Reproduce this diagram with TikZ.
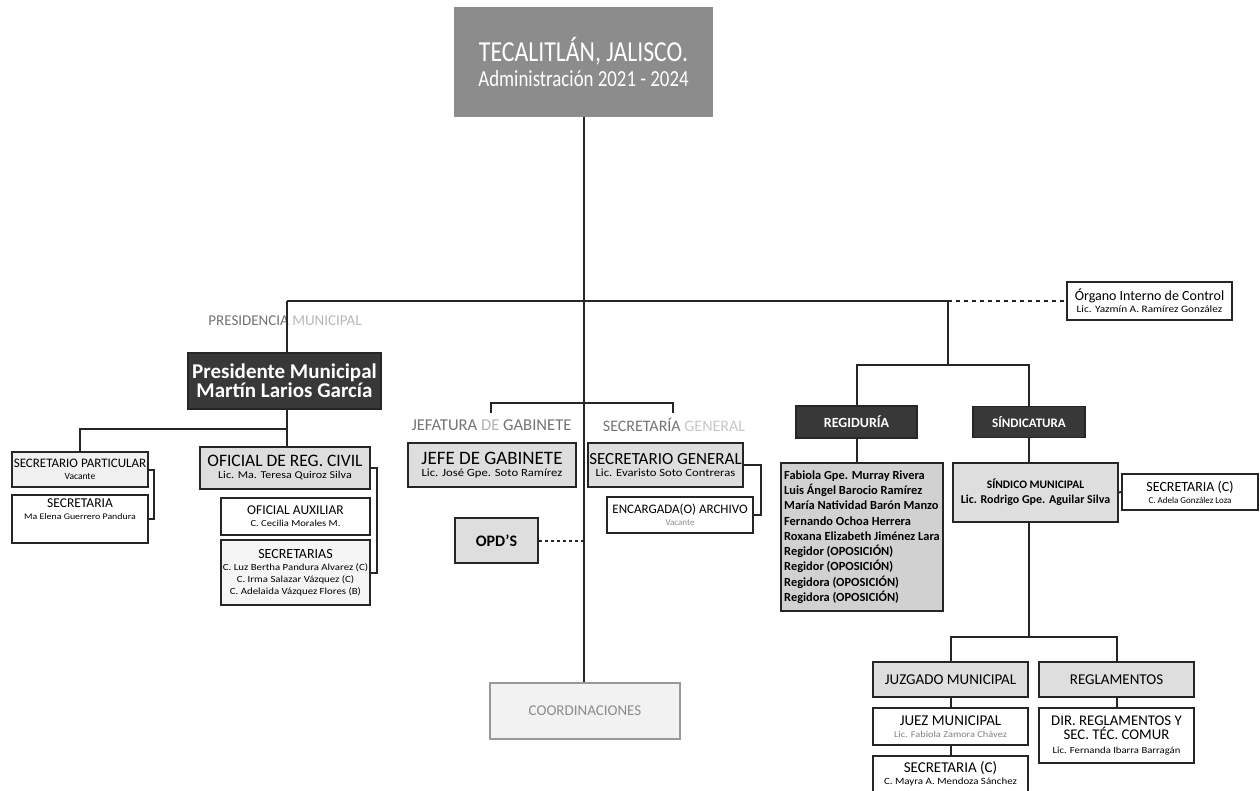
\documentclass[tikz,border=0pt]{standalone}
\usepackage{fontspec}
\setmainfont{Carlito}
\newfontfamily\cond{Carlito}[FakeStretch=0.82]
\newfontfamily\widef{Carlito}[FakeStretch=1.15]
\newcommand\fs[2]{\fontsize{#1}{#2}\selectfont}
\begin{document}
\begin{tikzpicture}[x=1pt,y=-1pt,
  conn/.style={line width=2pt, draw=black!85},
  bx/.style={draw=black!85, line width=1.8pt, inner sep=1pt, align=center},
  dk/.style={bx, fill=black!78, text=white},
  gr/.style={bx, fill=black!13},
  wh/.style={bx, fill=white},
  lbl/.style={inner sep=0pt, align=center}]
\useasboundingbox (0,0) rectangle (1260,791);

% title
\node[bx, draw=black!45, fill=black!45, text=white, minimum width=257pt, minimum height=108pt] (tit) at (583.5,62)
  {\cond\fs{29}{30}TECALITLÁN, JALISCO.\\[5pt]\cond\fs{23}{25}Administración 2021 - 2024};

% presidencia
\node[lbl] (lpres) at (285,321) {\fs{15}{16}\textcolor{black!55}{PRESIDENCIA} \textcolor{black!28}{MUNICIPAL}};
\node[dk, minimum width=193pt, minimum height=56pt] (pres) at (284.5,381)
  {\bfseries\fs{21}{22}Presidente Municipal\\\bfseries\fs{21}{22}Martín Larios García};

\node[gr, fill=black!6, minimum width=136pt, minimum height=35pt] (spart) at (80,469.5)
  {\fs{13}{14}SECRETARIO PARTICULAR\\\fs{9.5}{10}Vacante};
\node[wh, minimum width=136pt, minimum height=48pt] (secr) at (80,519)
  {\fs{13.5}{14}SECRETARIA\\\widef\fs{8.6}{10}Ma Elena Guerrero Pandura\\[8pt]\mbox{}};

\node[gr, minimum width=170pt, minimum height=42pt] (ofc) at (285,468)
  {\fs{17.5}{18}OFICIAL DE REG. CIVIL\\\widef\fs{10.5}{12}Lic. Ma. Teresa Quiroz Silva};
\node[wh, minimum width=149pt, minimum height=37pt] (oaux) at (295.5,516.5)
  {\fs{13.5}{14}OFICIAL AUXILIAR\\\widef\fs{9.2}{11}C. Cecilia Morales M.};
\node[wh, fill=black!4, minimum width=149pt, minimum height=65pt] (secs) at (295.5,572.5)
  {\fs{14}{14}SECRETARIAS\\\widef\fs{9.4}{10}C. Luz Bertha Pandura Alvarez (C)\\\widef\fs{9.4}{10}C. Irma Salazar Vázquez (C)\\\widef\fs{9.4}{10}C. Adelaida Vázquez Flores (B)};

% middle
\node[lbl] (ljef) at (491.5,425) {\fs{16.6}{17}\textcolor{black!55}{JEFATURA} \textcolor{black!30}{DE} \textcolor{black!55}{GABINETE}};
\node[lbl] (lsg) at (674,425) {\fs{16}{17}\textcolor{black!55}{SECRETARÍA} \textcolor{black!22}{GENERAL}};
\node[gr, minimum width=168pt, minimum height=44pt] (jefe) at (492,465)
  {\fs{19}{19}JEFE DE GABINETE\\\widef\fs{11}{12}Lic. José Gpe. Soto Ramírez};
\node[gr, minimum width=155pt, minimum height=44pt] (sg) at (665.5,465)
  {\fs{17}{18}SECRETARIO GENERAL\\\widef\fs{11}{12}Lic. Evaristo Soto Contreras};
\node[wh, minimum width=146pt, minimum height=36pt] (arch) at (680,515)
  {\fs{13}{14}ENCARGADA(O) ARCHIVO\\\fs{9}{10}\textcolor{black!45}{Vacante}};
\node[gr, minimum width=83pt, minimum height=45pt] (opd) at (496.5,540.5) {\bfseries\fs{16}{17}OPD'S};
\node[bx, draw=black!40, fill=black!5, text=black!45, minimum width=190pt, minimum height=56pt] (coord) at (585,711)
  {\fs{15}{16}COORDINACIONES};

% right
\node[bx, line width=2.2pt, fill=white, minimum width=165pt, minimum height=38pt] (org) at (1149.5,301)
  {\fs{14}{14}Órgano Interno de Control\\\widef\fs{9.8}{11}Lic. Yazmín A. Ramírez González};
\node[dk, minimum width=121pt, minimum height=32pt] (reg) at (856.5,422) {\bfseries\fs{14}{15}REGIDURÍA};
\node[dk, minimum width=112pt, minimum height=31pt] (sin) at (1029,422) {\bfseries\fs{13}{14}SÍNDICATURA};
\node[gr, fill=black!18, minimum width=162pt, minimum height=148pt, align=left, font=\bfseries\fs{12.4}{15.25}] (rlist) at (862,537)
  {Fabiola Gpe. Murray Rivera\\Luis Ángel Barocio Ramírez\\María Natividad Barón Manzo\\Fernando Ochoa Herrera\\Roxana Elizabeth Jiménez Lara\\Regidor (OPOSICIÓN)\\Regidor (OPOSICIÓN)\\Regidora (OPOSICIÓN)\\Regidora (OPOSICIÓN)};
\node[gr, minimum width=165pt, minimum height=59pt] (sindico) at (1035.5,492.5)
  {\bfseries\fs{11.5}{13}SÍNDICO MUNICIPAL\\[3pt]\bfseries\fs{12}{13}Lic. Rodrigo Gpe. Aguilar Silva};
\node[wh, minimum width=136pt, minimum height=36pt] (secc) at (1190,492)
  {\fs{14}{14}SECRETARIA (C)\\\fs{9}{10}C. Adela González Loza};
\node[gr, minimum width=155pt, minimum height=35pt] (juz) at (950.5,679.5) {\fs{15}{16}JUZGADO MUNICIPAL};
\node[gr, minimum width=155pt, minimum height=35pt] (regl) at (1116.5,679.5) {\fs{15}{16}REGLAMENTOS};
\node[wh, minimum width=155pt, minimum height=37pt] (juez) at (950.5,726.5)
  {\fs{15}{15}JUEZ MUNICIPAL\\\widef\fs{9}{10}\textcolor{black!50}{Lic. Fabiola Zamora Chávez}};
\node[wh, minimum width=155pt, minimum height=36pt] (secj) at (950.5,774)
  {\fs{15}{14}SECRETARIA (C)\\\widef\fs{9.5}{10}C. Mayra A. Mendoza Sánchez};
\node[wh, minimum width=155pt, minimum height=55pt] (dir) at (1116.5,735.5)
  {\fs{14.8}{15}DIR. REGLAMENTOS Y\\\fs{14.8}{15}SEC. TÉC. COMUR\\[2pt]\widef\fs{9.3}{9}Lic. Fernanda Ibarra Barragán};

% connectors
\coordinate (hl) at (287,301);
\coordinate (hr) at (948,301);
\coordinate (rj) at (948,365);
\coordinate (pj) at (287,429);
\coordinate (mj) at (583.5,403);
\coordinate (ml) at (491,413);
\coordinate (mr) at (673,413);
\coordinate (sj) at (1029,637);

\draw[conn] (tit.south) -- (tit.south |- coord.north);
\draw[conn] (hl) -- (hr);
\draw[conn] (hl) -- (hl |- pres.north);
\draw[conn, dash pattern=on 4pt off 4pt] (hr) -- (org.west);
\draw[conn] (hr) -- (rj);
\draw[conn] (reg.north) |- (rj) -| (sin.north);

\draw[conn] (hl |- pres.south) -- (hl |- ofc.north);
\draw[conn] (spart.north) |- (pj);
\draw[conn] (spart.east) -- ++(5,0) |- (secr.east);
\draw[conn] (ofc.east) -- ++(6,0) |- (secs.east);

\draw[conn] (ml) |- (mj) -| (mr);
\draw[conn] (sg.east) -- ++(17,0) |- (arch.east);
\draw[conn, dash pattern=on 3pt off 3pt] (opd.east) -- (opd.east -| tit.south);

\draw[conn] (reg.south) -- (reg.south |- rlist.north);
\draw[conn] (sin.south) -- (sin.south |- sindico.north);
\draw[conn] (sindico.east) -- (secc.west);
\draw[conn] (sj |- sindico.south) -- (sj);
\draw[conn] (juz.north) |- (sj) -| (regl.north);
\draw[conn] (juz.south) -- (juez.north);
\draw[conn] (juez.south) -- (secj.north);
\draw[conn] (regl.south) -- (dir.north);
\end{tikzpicture}
\end{document}
